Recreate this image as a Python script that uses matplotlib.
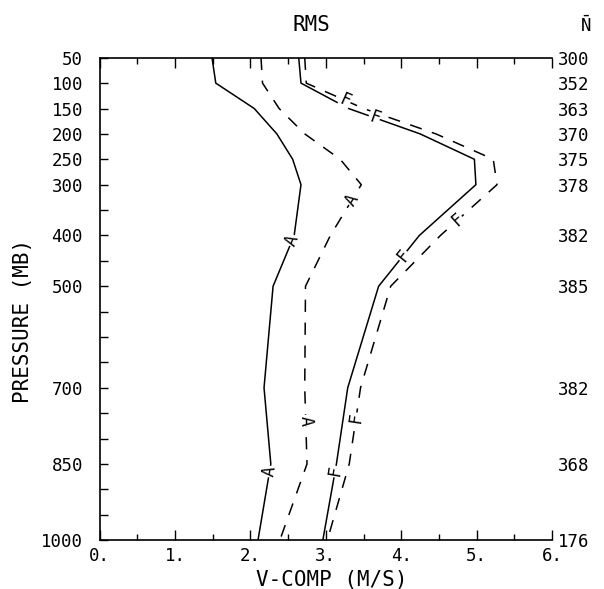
#!/usr/bin/env python3
"""
RMS of V-component profiles (analysis A / forecast F) against pressure.
"""

import numpy as np
import matplotlib
matplotlib.use('Agg')
import matplotlib.pyplot as plt
from matplotlib.ticker import FixedLocator, MultipleLocator

# Data
levels = [50, 100, 150, 200, 250, 300, 400, 500, 700, 850, 1000]
n_counts = [300, 352, 363, 370, 375, 378, 382, 385, 382, 368, 176]

solid_a = [1.49, 1.54, 2.05, 2.35, 2.56, 2.67, 2.58, 2.30, 2.18, 2.27, 2.10]
dashed_a = [2.14, 2.16, 2.38, 2.72, 3.19, 3.47, 3.06, 2.73, 2.72, 2.75, 2.39]
solid_f = [2.64, 2.67, 3.30, 4.25, 4.97, 4.99, 4.24, 3.70, 3.29, 3.14, 2.96]
dashed_f = [2.72, 2.74, 3.50, 4.46, 5.22, 5.27, 4.52, 3.86, 3.46, 3.31, 3.02]

x_ticks = [0, 1, 2, 3, 4, 5, 6]
x_tick_labels = ['0.', '1.', '2.', '3.', '4.', '5.', '6.']

FONT = 'DejaVu Sans Mono'
FS_TICK = 12.5
FS_LABEL = 15
plt.rcParams['font.family'] = FONT
plt.rcParams['mathtext.fontset'] = 'custom'
plt.rcParams['mathtext.rm'] = FONT

fig = plt.figure(figsize=(6.04, 5.89), dpi=100)
ax = fig.add_axes([0.165, 0.083, 0.749, 0.819])

dash = (0, (8, 7))
curves = [
    (solid_a, '-', 'A', [410, 865]),
    (dashed_a, dash, 'A', [330, 765]),
    (solid_f, '-', 'F', [168, 440, 865]),
    (dashed_f, dash, 'F', [134, 370, 760]),
]

for vals, ls, letter, _ in curves:
    ax.plot(vals, levels, color='black', linestyle=ls, linewidth=1.1)

ax.set_xlim(0, 6)
ax.set_ylim(1000, 50)

# axis styling
for side in ['left', 'bottom', 'top']:
    ax.spines[side].set_linewidth(1.2)
ax.spines['right'].set_visible(False)

ax.xaxis.set_major_locator(FixedLocator(x_ticks))
ax.xaxis.set_minor_locator(MultipleLocator(0.5))
ax.set_xticklabels(x_tick_labels, fontsize=FS_TICK)
ax.tick_params(axis='x', which='major', direction='in', length=7, width=1.0,
               top=True, pad=5)
ax.tick_params(axis='x', which='minor', direction='in', length=4.5, width=1.0,
               top=True)

minor_p = [p for p in range(50, 1001, 50) if p not in levels]
ax.yaxis.set_major_locator(FixedLocator(levels))
ax.yaxis.set_minor_locator(FixedLocator(minor_p))
ax.set_yticklabels([str(p) for p in levels], fontsize=FS_TICK)
ax.tick_params(axis='y', which='both', direction='in', length=5.5, width=1.0,
               right=False, pad=12)

# right-hand sample counts
ax2 = ax.twinx()
ax2.set_ylim(ax.get_ylim())
ax2.yaxis.set_major_locator(FixedLocator(levels))
ax2.set_yticklabels([str(n) for n in n_counts], fontsize=FS_TICK)
ax2.tick_params(axis='y', which='both', length=0, pad=4)
for s in ax2.spines.values():
    s.set_visible(False)

# curve letters, aligned with the local line direction
fig.canvas.draw()
for vals, ls, letter, plist in curves:
    for p in plist:
        x = np.interp(p, levels, vals)
        i = int(np.searchsorted(levels, p))
        i = min(max(i, 1), len(levels) - 1)
        d0 = ax.transData.transform((vals[i - 1], levels[i - 1]))
        d1 = ax.transData.transform((vals[i], levels[i]))
        ang = np.degrees(np.arctan2(d1[1] - d0[1], d1[0] - d0[0]))
        if ang > 90:
            ang -= 180
        elif ang <= -90:
            ang += 180
        ax.text(x, p, letter, fontsize=12, rotation=ang,
                rotation_mode='anchor', ha='center', va='center',
                bbox=dict(facecolor='white', edgecolor='none', pad=0.6),
                zorder=5)

fig.text(0.515, 0.958, 'RMS', fontsize=FS_LABEL, ha='center', va='center')
fig.text(0.970, 0.956, r'$\bar{\mathrm{N}}$', fontsize=FS_TICK,
         ha='center', va='center')
fig.text(0.55, 0.016, 'V-COMP (M/S)', fontsize=FS_LABEL, ha='center',
         va='center')
fig.text(0.038, 0.455, 'PRESSURE (MB)', fontsize=FS_LABEL, ha='center',
         va='center', rotation=90)

fig.savefig('out.png', dpi=100)
